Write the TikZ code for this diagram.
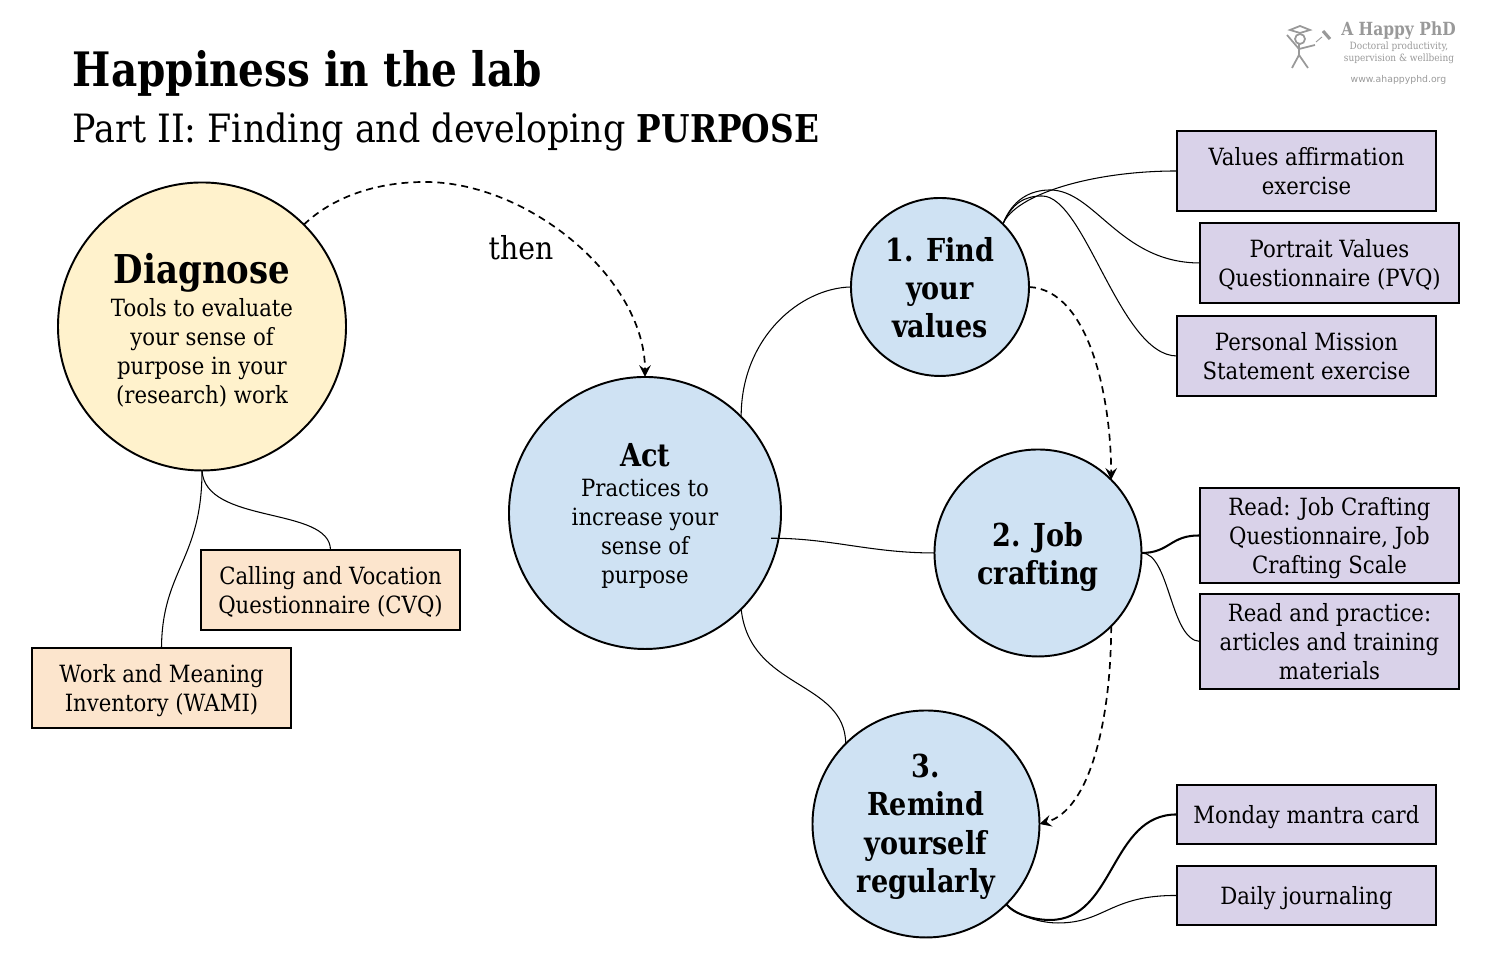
\documentclass[tikz,border=0pt]{standalone}
\usepackage{fontspec}
\setmainfont[UprightFeatures={FakeStretch=0.895},BoldFeatures={FakeStretch=0.855}]{DejaVu Serif}
\newfontfamily\logofont{DejaVu Sans}
\definecolor{sunny}{HTML}{FFF2CC}
\definecolor{sky}{HTML}{CFE2F3}
\definecolor{lilac}{HTML}{D9D2E9}
\definecolor{peach}{HTML}{FCE5CD}
\definecolor{logogray}{HTML}{999999}
\newcommand{\bighead}{\fontsize{11.3}{12}\selectfont\bfseries}
\newcommand{\head}{\fontsize{9}{10.85}\selectfont\bfseries}
\newcommand{\body}{\fontsize{6.75}{8.25}\selectfont}
\newcommand{\toolstrut}{\rule[-2.47pt]{0pt}{9.97pt}}
\newcommand{\lift}[1]{\rule{0pt}{#1pt}}
\newcommand{\drop}{\rule[-1.8pt]{0pt}{0pt}}
\tikzset{
  bubble/.style={circle,draw,line width=.55pt,inner sep=0pt,outer sep=0pt,align=center},
  tool/.style={rectangle,draw,line width=.5pt,inner sep=0pt,outer sep=0pt,align=center,
    minimum width=2.59cm,font=\body},
  toolone/.style={tool,execute at begin node=\toolstrut},
  lnk/.style={line width=.3pt},
  lnkb/.style={line width=.58pt},
  nextstep/.style={->,line width=.48pt,dash pattern=on .07cm off .05cm},
}
\begin{document}
\begin{tikzpicture}[>=stealth]
\useasboundingbox (0,0) rectangle (14.88,9.68);
\node[anchor=base west,inner sep=0pt,font=\fontsize{13.5}{15}\selectfont\bfseries] (title) at (.72,8.81) {Happiness in the lab};
\node[anchor=base west,inner sep=0pt,font=\fontsize{11.1}{13}\selectfont] (subtitle) at (.72,8.25) {Part II: Finding and developing {\fontsize{10.9}{13}\selectfont\bfseries PURPOSE}};
% circles
\node[bubble,fill=sunny,minimum size=2.88cm,font=\body] (diagnose) at (2.02,6.415) {\lift{10.6}{\bighead Diagnose}\\[1pt]Tools to evaluate\\your sense of\\purpose in your\\(research) work};
\node[bubble,fill=sky,minimum size=2.72cm,font=\body] (act) at (6.45,4.55) {\lift{8.3}{\head Act}\\[.5pt]Practices to\\increase your\\sense of\\purpose};
\node[bubble,fill=sky,minimum size=1.78cm,font=\head] (find) at (9.40,6.81) {\lift{7.4}1. Find\\your\\values};
\node[bubble,fill=sky,minimum size=2.07cm,font=\head] (job) at (10.38,4.15) {\lift{9.1}2. Job\\crafting};
\node[bubble,fill=sky,minimum size=2.27cm,font=\head] (remind) at (9.26,1.44) {\lift{8.3}3.\\Remind\\yourself\\regularly};
% boxes
\node[tool,fill=lilac,minimum height=.80cm] (values) at (13.065,7.97) {\lift{7.2}Values affirmation\\exercise\drop};
\node[tool,fill=lilac,minimum height=.80cm] (pvq) at (13.295,7.05) {\lift{7.2}Portrait Values\\Questionnaire (PVQ)\drop};
\node[tool,fill=lilac,minimum height=.80cm] (mission) at (13.065,6.12) {\lift{7.2}Personal Mission\\Statement exercise\drop};
\node[tool,fill=lilac,minimum height=.95cm] (jcq) at (13.295,4.325) {\lift{7.2}Read: Job Crafting\\Questionnaire, Job\\Crafting Scale\drop};
\node[tool,fill=lilac,minimum height=.95cm] (articles) at (13.295,3.265) {\lift{7.2}Read and practice:\\articles and training\\materials\drop};
\node[toolone,fill=lilac,minimum height=.59cm] (monday) at (13.065,1.535) {Monday mantra card};
\node[toolone,fill=lilac,minimum height=.59cm] (daily) at (13.065,.725) {Daily journaling};
\node[tool,fill=peach,minimum height=.80cm] (cvq) at (3.305,3.78) {\lift{7.2}Calling and Vocation\\Questionnaire (CVQ)\drop};
\node[tool,fill=peach,minimum height=.80cm] (wami) at (1.615,2.8) {\lift{7.2}Work and Meaning\\Inventory (WAMI)\drop};
% thin links
\draw[lnk] (find.45) .. controls (10.15,7.73) and (10.90,7.97) .. (values.west);
\draw[lnk] (find.45) .. controls (10.12,7.68) and (10.30,7.78) .. (10.50,7.78)
  .. controls (10.95,7.78) and (11.20,7.05) .. (pvq.west);
\draw[lnk] (find.45) .. controls (10.12,7.65) and (10.25,7.72) .. (10.42,7.72)
  .. controls (10.85,7.72) and (11.20,6.12) .. (mission.west);
\draw[lnk] (act.45) .. controls (7.41,6.30) and (8.00,6.80) .. (find.west);
\draw[lnk] ([xshift=-.07cm,yshift=.03cm]act.-12) .. controls (8.30,4.30) and (8.70,4.15) .. (job.west);
\draw[lnk] (act.-45) .. controls (7.50,2.78) and (8.45,2.88) .. (remind.135);
\draw[lnkb] (job.east) .. controls (11.70,4.15) and (11.70,4.33) .. (jcq.west);
\draw[lnk] (job.east) .. controls (11.70,4.15) and (11.70,3.28) .. (articles.west);
\draw[lnkb] (remind.-45) .. controls (10.15,.53) and (10.35,.48) .. (10.50,.48)
  .. controls (11.15,.48) and (11.10,1.54) .. (monday.west);
\draw[lnk] (remind.-45) .. controls (10.18,.52) and (10.40,.45) .. (10.58,.45)
  .. controls (11.05,.45) and (11.10,.73) .. (daily.west);
\draw[lnk] (diagnose.south) .. controls (2.05,4.43) and (3.30,4.62) .. (cvq.north);
\draw[lnk] (diagnose.south) .. controls (2.02,4.08) and (1.62,3.98) .. (wami.north);
% dashed arrows
\draw[nextstep] (diagnose.45) .. controls (3.35,7.73) and (3.80,7.86) .. (4.25,7.86)
  .. controls (5.30,7.86) and (6.45,6.88) .. (act.north);
\node[inner sep=0pt,font=\fontsize{9}{11}\selectfont] (then) at (5.21,7.2) {then};
\draw[nextstep] (find.east) .. controls (10.90,6.78) and (11.11,5.68) .. (job.45);
\draw[nextstep] (job.-45) .. controls (11.11,2.48) and (10.90,1.58) .. (remind.east);
% logo
\node[inner sep=0pt,text=logogray,font=\fontsize{5.15}{6}\selectfont\bfseries] (happy) at (13.985,9.37) {A Happy PhD};
\node[inner sep=0pt,text=logogray,align=center,font=\fontsize{2.85}{3.4}\selectfont] (tagline) at (13.99,9.15) {Doctoral productivity,\\supervision \& wellbeing};
\node[inner sep=0pt,text=logogray,font=\logofont\fontsize{2.65}{3}\selectfont] (site) at (13.985,8.885) {www.ahappyphd.org};
\begin{scope}[logogray,line width=.5pt]
\draw (13.00,9.29) circle (.05);
\draw (12.99,9.24) -- (12.99,9.13) -- (12.92,9.00) (12.99,9.13) -- (13.08,9.00);
\draw (12.87,9.33) -- (12.99,9.19) -- (13.15,9.23);
\draw (12.90,9.38) -- (13.00,9.42) -- (13.10,9.38) -- (13.00,9.35) -- cycle;
\draw[line width=.9pt] (13.23,9.37) -- (13.30,9.29);
\draw[line width=.25pt] (13.16,9.26) -- (13.22,9.31);
\end{scope}
\end{tikzpicture}
\end{document}
